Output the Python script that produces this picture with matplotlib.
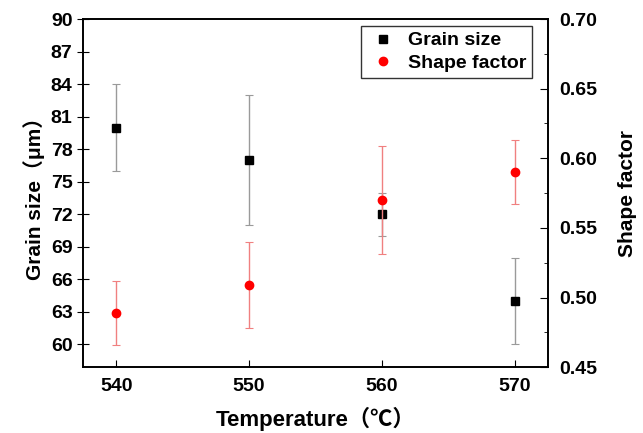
import numpy as np
import matplotlib
matplotlib.use("Agg")
import matplotlib.pyplot as plt
from matplotlib.lines import Line2D
from matplotlib.ticker import MultipleLocator

plt.rcParams["font.family"] = ["Liberation Sans", "Noto Sans CJK SC", "DejaVu Sans"]
plt.rcParams["font.weight"] = "bold"

# -----------------------------
# Data
# -----------------------------
temperature = [540, 550, 560, 570]
grain_size = [80, 77, 72, 64]
grain_err = [4, 6, 2, 4]
shape_factor = [0.489, 0.509, 0.570, 0.590]
shape_err = [0.023, 0.031, 0.039, 0.023]

# -----------------------------
# Figure
# -----------------------------
fig = plt.figure(figsize=(6.43, 4.33), dpi=100)
ax = fig.add_axes([0.129, 0.152, 0.723, 0.804])
ax2 = ax.twinx()

ax.errorbar(temperature, grain_size, yerr=grain_err, fmt="s", color="black",
            ecolor="#9a9a9a", elinewidth=1.0, capsize=3, capthick=0.8,
            markersize=6)
ax2.errorbar(temperature, shape_factor, yerr=shape_err, fmt="o", color="red",
             ecolor="#f08080", elinewidth=1.0, capsize=3, capthick=0.8,
             markersize=6)

ax.set_xlim(537.5, 572.5)
ax.set_ylim(57.9, 90)
ax2.set_ylim(0.45, 0.70)

ax.set_xticks(temperature)
ax.set_yticks(np.arange(60, 91, 3))
ax2.yaxis.set_major_locator(MultipleLocator(0.05))
ax2.yaxis.set_minor_locator(MultipleLocator(0.025))
ax2.yaxis.set_major_formatter(plt.FuncFormatter(lambda v, p: f"{v:.2f}"))

ax.tick_params(axis="x", direction="in", length=5, labelsize=14, pad=8)
ax.tick_params(axis="y", direction="inout", length=8, labelsize=14)
ax2.tick_params(axis="y", which="major", direction="in", length=6,
                labelsize=14, pad=8)
ax2.tick_params(axis="y", which="minor", direction="in", length=3)

for a in (ax, ax2):
    for s in a.spines.values():
        s.set_linewidth(1.2)

ax.set_xlabel("Temperature（℃）", fontsize=16, fontweight="bold", labelpad=8)
ax.set_ylabel("Grain size（μm）", fontsize=15, fontweight="bold", labelpad=4)
ax2.set_ylabel("Shape factor", fontsize=15, fontweight="bold", labelpad=15)

handles = [
    Line2D([], [], linestyle="none", marker="s", color="black", markersize=6),
    Line2D([], [], linestyle="none", marker="o", color="red", markersize=6),
]
leg = ax.legend(handles, ["Grain size", "Shape factor"], loc="upper right",
                bbox_to_anchor=(0.966, 0.98), borderaxespad=0, fontsize=14,
                frameon=True, fancybox=False, edgecolor="black",
                handletextpad=0.5, borderpad=0.3, labelspacing=0.25,
                handlelength=1.6)
leg.get_frame().set_linewidth(1.0)
for t in leg.get_texts():
    t.set_fontweight("bold")

fig.savefig("out.png", dpi=100)
